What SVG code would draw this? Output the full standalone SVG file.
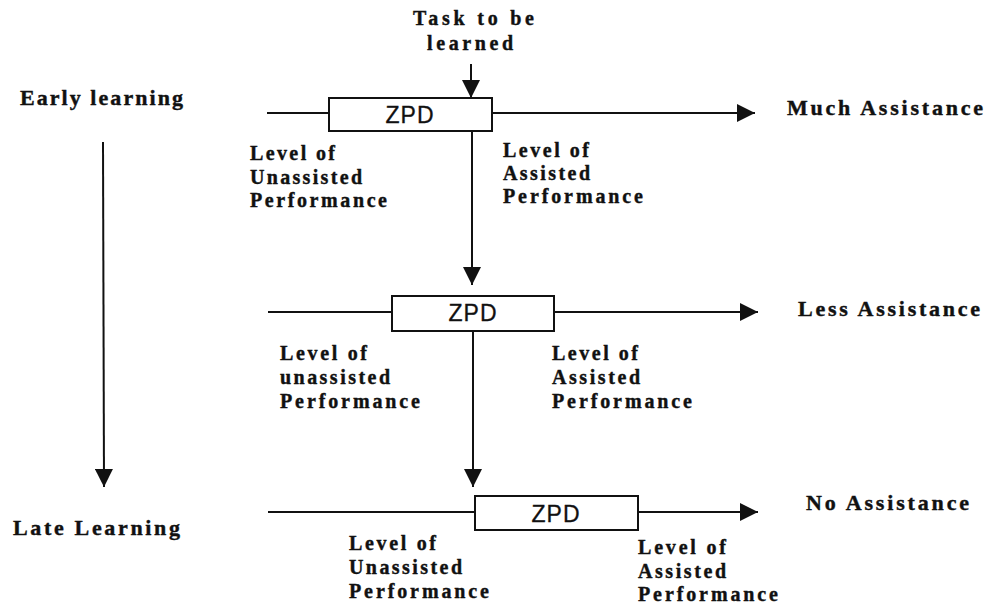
<svg xmlns="http://www.w3.org/2000/svg" width="990" height="605" viewBox="0 0 990 605">
<defs>
<style>
.lbl{font-family:"Liberation Serif","Times New Roman",serif;font-weight:700;font-size:20px;fill:#111;stroke:#111;stroke-width:0.4}
.big{font-family:"Liberation Serif","Times New Roman",serif;font-weight:700;font-size:22px;fill:#111;stroke:#111;stroke-width:0.4}
.zpd{font-family:"Liberation Sans",Arial,sans-serif;font-size:23px;fill:#111;stroke:#111;stroke-width:0.3;text-anchor:middle;letter-spacing:1px}
.box{fill:#fff;stroke:#111;stroke-width:2}
.ln{stroke:#111;stroke-width:2;fill:none}
</style>
<marker id="ahb" viewBox="0 0 10 10" refX="10" refY="5" markerWidth="20" markerHeight="18" markerUnits="userSpaceOnUse" orient="auto">
<path d="M0,0 L10,5 L0,10 Z" fill="#111"/>
</marker>
</defs>
<rect width="990" height="605" fill="#fff"/>

<g id="connectors">
<line class="ln" x1="267" y1="113" x2="755" y2="113" marker-end="url(#ahb)"/>
<line class="ln" x1="268" y1="312" x2="758" y2="312" marker-end="url(#ahb)"/>
<line class="ln" x1="268" y1="512" x2="758" y2="512" marker-end="url(#ahb)"/>
<line class="ln" x1="471" y1="64" x2="471" y2="98" marker-end="url(#ahb)"/>
<line class="ln" x1="472" y1="131" x2="472" y2="285" marker-end="url(#ahb)"/>
<line class="ln" x1="473" y1="332" x2="473" y2="487" marker-end="url(#ahb)"/>
<line class="ln" x1="103" y1="142" x2="104" y2="487" marker-end="url(#ahb)"/>
</g>

<g id="zpd1">
<rect class="box" x="329" y="98" width="163" height="33"/>
<text class="zpd" x="410" y="123">ZPD</text>
</g>
<g id="zpd2">
<rect class="box" x="392" y="296" width="162" height="35"/>
<text class="zpd" x="473" y="321">ZPD</text>
</g>
<g id="zpd3">
<rect class="box" x="475" y="496" width="163" height="34"/>
<text class="zpd" x="556" y="522">ZPD</text>
</g>

<g id="task">
<text class="lbl" x="413" y="25" textLength="121" lengthAdjust="spacing">Task to be</text>
<text class="lbl" x="427" y="50" textLength="86" lengthAdjust="spacing">learned</text>
</g>
<g id="early">
<text class="big" x="20" y="105" textLength="163" lengthAdjust="spacing">Early learning</text>
</g>
<g id="late">
<text class="big" x="13" y="535" textLength="167" lengthAdjust="spacing">Late Learning</text>
</g>
<g id="much">
<text class="big" x="787" y="115" textLength="196" lengthAdjust="spacing">Much Assistance</text>
</g>
<g id="less">
<text class="big" x="798" y="316" textLength="182" lengthAdjust="spacing">Less Assistance</text>
</g>
<g id="no">
<text class="big" x="806" y="510" textLength="163" lengthAdjust="spacing">No Assistance</text>
</g>

<g id="r1left">
<text class="lbl" x="250" y="160" textLength="85" lengthAdjust="spacing">Level of</text>
<text class="lbl" x="250" y="184" textLength="112" lengthAdjust="spacing">Unassisted</text>
<text class="lbl" x="250" y="207" textLength="137" lengthAdjust="spacing">Performance</text>
</g>
<g id="r1right">
<text class="lbl" x="503" y="157" textLength="86" lengthAdjust="spacing">Level of</text>
<text class="lbl" x="503" y="180" textLength="87" lengthAdjust="spacing">Assisted</text>
<text class="lbl" x="503" y="203" textLength="140" lengthAdjust="spacing">Performance</text>
</g>
<g id="r2left">
<text class="lbl" x="280" y="360" textLength="87" lengthAdjust="spacing">Level of</text>
<text class="lbl" x="280" y="384" textLength="110" lengthAdjust="spacing">unassisted</text>
<text class="lbl" x="280" y="408" textLength="140" lengthAdjust="spacing">Performance</text>
</g>
<g id="r2right">
<text class="lbl" x="552" y="360" textLength="86" lengthAdjust="spacing">Level of</text>
<text class="lbl" x="552" y="384" textLength="88" lengthAdjust="spacing">Assisted</text>
<text class="lbl" x="552" y="408" textLength="140" lengthAdjust="spacing">Performance</text>
</g>
<g id="r3left">
<text class="lbl" x="349" y="550" textLength="87" lengthAdjust="spacing">Level of</text>
<text class="lbl" x="349" y="574" textLength="113" lengthAdjust="spacing">Unassisted</text>
<text class="lbl" x="349" y="598" textLength="140" lengthAdjust="spacing">Performance</text>
</g>
<g id="r3right">
<text class="lbl" x="638" y="554" textLength="88" lengthAdjust="spacing">Level of</text>
<text class="lbl" x="638" y="578" textLength="88" lengthAdjust="spacing">Assisted</text>
<text class="lbl" x="638" y="601" textLength="140" lengthAdjust="spacing">Performance</text>
</g>
</svg>
